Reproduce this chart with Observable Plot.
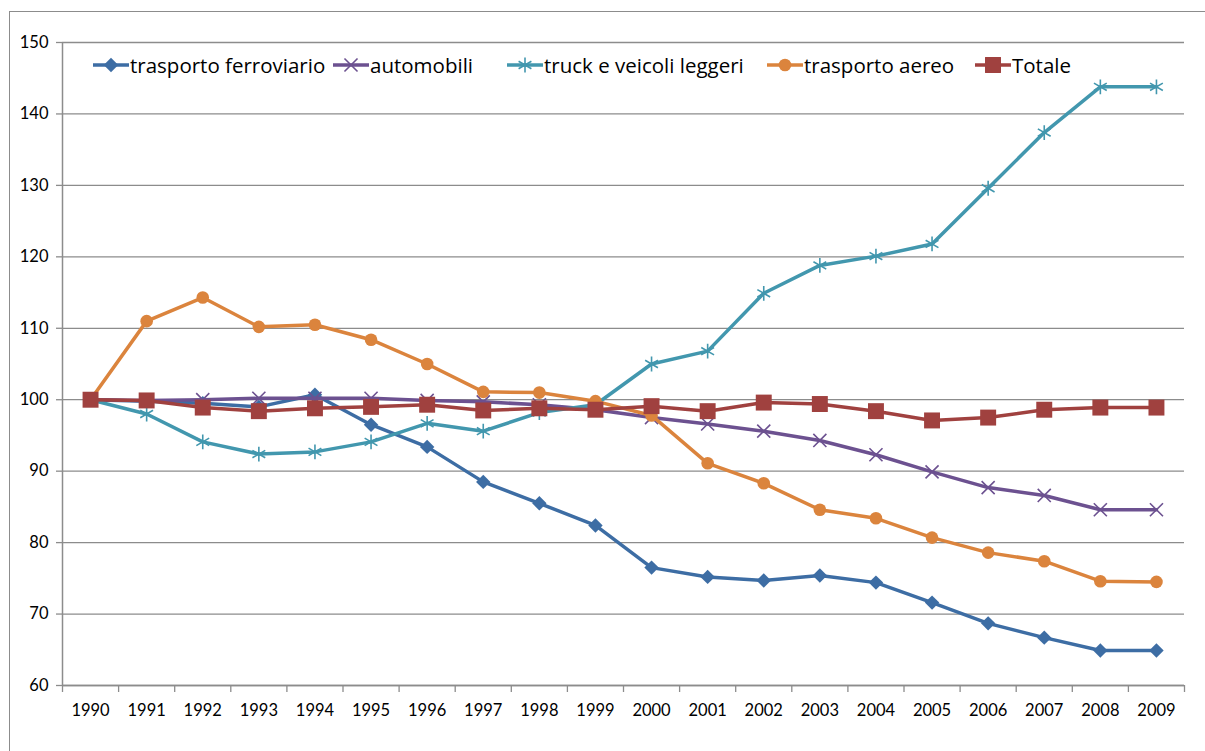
<!DOCTYPE html>
<html>
<head>
<meta charset="utf-8">
<script src="https://cdn.jsdelivr.net/npm/d3@7"></script>
<script src="https://cdn.jsdelivr.net/npm/@observablehq/plot@0.6"></script>
<style>
  html, body { margin: 0; padding: 0; background: #fff; }
  #wrap { position: relative; width: 1205px; height: 751px; overflow: hidden; font-family: Lato, "Open Sans", sans-serif; }
  #frame { position: absolute; left: 9px; top: 11px; width: 1300px; height: 800px; border-top: 1.5px solid #8c8c8c; border-left: 1.5px solid #8c8c8c; }
  #chart { position: absolute; left: 0; top: 0; }
  #legend { position: absolute; left: 0; top: 0; width: 1205px; height: 100px; pointer-events: none; }
  .item { position: absolute; top: 52px; display: flex; align-items: center; font-family: "Open Sans", Lato, sans-serif; font-size: 20.5px; line-height: 26px; color: #000; white-space: nowrap; }
  .item svg { margin-right: 1px; }
</style>
</head>
<body>
<div id="wrap">
  <div id="frame"></div>
  <div id="chart"></div>
  <div id="legend"></div>
</div>
<script>
const years = [1990,1991,1992,1993,1994,1995,1996,1997,1998,1999,2000,2001,2002,2003,2004,2005,2006,2007,2008,2009];
const yTicks = [60,70,80,90,100,110,120,130,140,150];

const ferroviario = [100,99.8,99.5,99.0,100.7,96.5,93.4,88.5,85.5,82.4,76.5,75.2,74.7,75.4,74.4,71.6,68.7,66.7,64.9,64.9];
const automobili  = [100,99.9,100.0,100.2,100.2,100.2,99.9,99.7,99.3,98.6,97.5,96.6,95.6,94.3,92.3,89.9,87.7,86.6,84.6,84.6];
const truck       = [100,98.0,94.1,92.4,92.7,94.1,96.7,95.6,98.2,99.3,105.0,106.8,114.9,118.8,120.1,121.8,129.6,137.4,143.8,143.8];
const aereo       = [100,111.0,114.3,110.2,110.5,108.4,105.0,101.1,101.0,99.8,97.8,91.1,88.3,84.6,83.4,80.7,78.6,77.4,74.6,74.5];
const totale      = [100,99.9,98.9,98.4,98.8,99.0,99.3,98.5,98.8,98.6,99.1,98.4,99.6,99.4,98.4,97.1,97.5,98.6,98.9,98.9];

const seriesNames = ["trasporto ferroviario","automobili","truck e veicoli leggeri","trasporto aereo","Totale"];
const seriesValues = [ferroviario, automobili, truck, aereo, totale];
const colors = ["#3d6da4", "#6c5190", "#4297ae", "#db843d", "#a0413f"];
const symbols = ["diamond2", "times", "asterisk", "circle", "square"];
const filled = [true, false, false, true, true];
const radii = [6.5, 6, 7, 6.3, 9];

const data = seriesNames.map((name, i) => years.map((year, j) => ({series: name, year, value: seriesValues[i][j]})));
const boundaries = years.map(y => y - 0.5).concat([years[years.length - 1] + 0.5]);

const marks = [
  Plot.gridY(yTicks, {stroke: "#8c8c8c", strokeOpacity: 1, strokeWidth: 1.3}),
  Plot.axisY({ticks: yTicks, tickSize: 6, tickPadding: 8, fontSize: 16.5, stroke: "#8c8c8c", strokeWidth: 1.3, tickFormat: d => String(d), label: null}),
  Plot.axisX({ticks: years, tickSize: 0, tickPadding: 19, fontSize: 16.5, tickFormat: d => String(d), label: null}),
  Plot.axisX({ticks: boundaries, tickSize: 7, stroke: "#8c8c8c", strokeWidth: 1.3, tickFormat: () => "", label: null}),
  Plot.ruleX([boundaries[0]], {stroke: "#8c8c8c", strokeWidth: 1.5}),
  Plot.ruleY([yTicks[0]], {stroke: "#8c8c8c", strokeWidth: 1.5})
];
data.forEach((d, i) => {
  marks.push(Plot.line(d, {x: "year", y: "value", stroke: colors[i], strokeWidth: 3.5}));
  marks.push(Plot.dot(d, filled[i]
    ? {x: "year", y: "value", symbol: () => symbols[i], r: radii[i], fill: colors[i], stroke: "none"}
    : {x: "year", y: "value", symbol: () => symbols[i], r: radii[i], stroke: colors[i], strokeWidth: 1.6, fill: "none"}));
});

const chart = Plot.plot({
  width: 1205,
  height: 751,
  marginLeft: 62,
  marginRight: 21,
  marginTop: 42,
  marginBottom: 66,
  style: {background: "transparent", fontFamily: "Lato, 'Open Sans', sans-serif", color: "#000"},
  x: {domain: [boundaries[0], boundaries[boundaries.length - 1]], axis: null, label: null},
  y: {domain: [yTicks[0], yTicks[yTicks.length - 1]], axis: null, label: null},
  symbol: {type: "identity"},
  marks
});
document.getElementById("chart").appendChild(chart);

// legend
const legendLeft = [93, 333, 507, 767, 975];
const legend = document.getElementById("legend");
seriesNames.forEach((name, i) => {
  const item = document.createElement("div");
  item.className = "item";
  item.style.left = legendLeft[i] + "px";
  const s = d3.create("svg").attr("width", 36).attr("height", 24);
  s.append("line").attr("x1", 0).attr("x2", 36).attr("y1", 12).attr("y2", 12).attr("stroke", colors[i]).attr("stroke-width", 3.5);
  const sym = d3.symbol().type({
    diamond2: d3.symbolDiamond2, times: d3.symbolTimes, asterisk: d3.symbolAsterisk, circle: d3.symbolCircle, square: d3.symbolSquare
  }[symbols[i]]).size(Math.PI * radii[i] * radii[i]);
  const p = s.append("path").attr("transform", "translate(18,12)").attr("d", sym());
  if (filled[i]) p.attr("fill", colors[i]); else p.attr("fill", "none").attr("stroke", colors[i]).attr("stroke-width", 1.6);
  item.appendChild(s.node());
  const t = document.createElement("span");
  t.textContent = name;
  item.appendChild(t);
  legend.appendChild(item);
});
</script>
</body>
</html>
